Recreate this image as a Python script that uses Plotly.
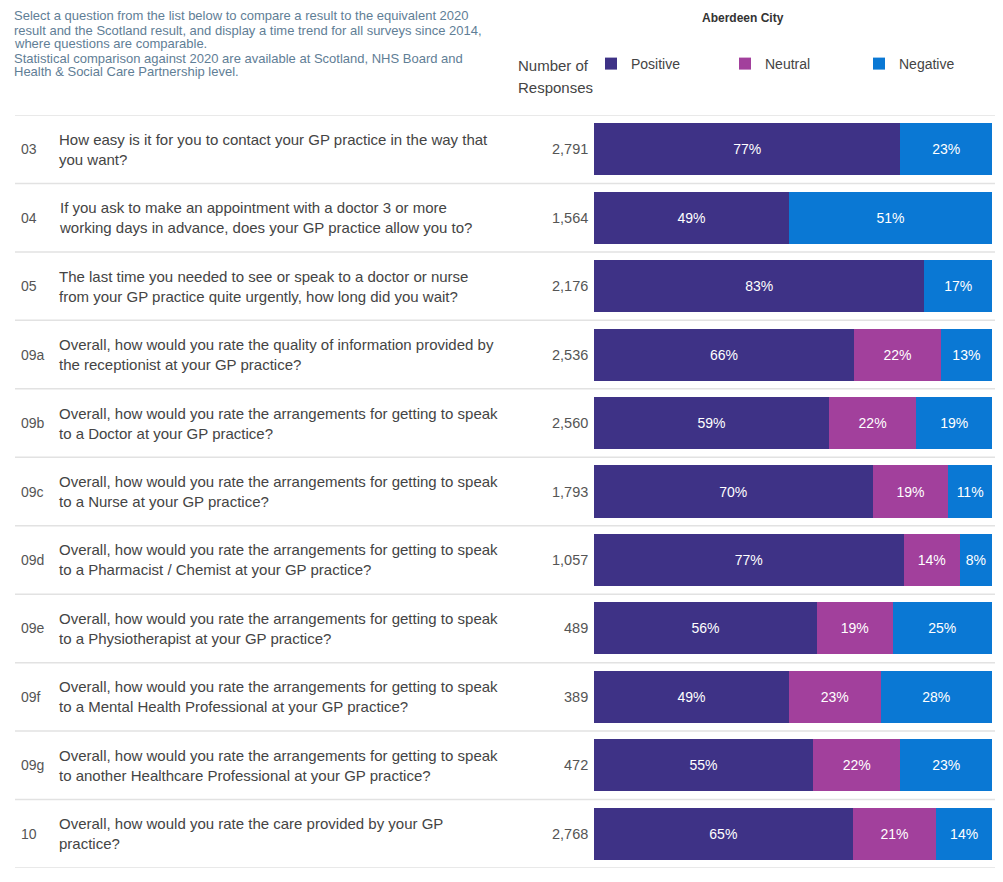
import plotly.graph_objects as go

W, H = 1003, 882

qids = ["03", "04", "05", "09a", "09b", "09c", "09d", "09e", "09f", "09g", "10"]
questions = [
    "How easy is it for you to contact your GP practice in the way that<br>you want?",
    "If you ask to make an appointment with a doctor 3 or more<br>working days in advance, does your GP practice allow you to?",
    "The last time you needed to see or speak to a doctor or nurse<br>from your GP practice quite urgently, how long did you wait?",
    "Overall, how would you rate the quality of information provided by<br>the receptionist at your GP practice?",
    "Overall, how would you rate the arrangements for getting to speak<br>to a Doctor at your GP practice?",
    "Overall, how would you rate the arrangements for getting to speak<br>to a Nurse at your GP practice?",
    "Overall, how would you rate the arrangements for getting to speak<br>to a Pharmacist / Chemist at your GP practice?",
    "Overall, how would you rate the arrangements for getting to speak<br>to a Physiotherapist at your GP practice?",
    "Overall, how would you rate the arrangements for getting to speak<br>to a Mental Health Professional at your GP practice?",
    "Overall, how would you rate the arrangements for getting to speak<br>to another Healthcare Professional at your GP practice?",
    "Overall, how would you rate the care provided by your GP<br>practice?",
]
responses = ["2,791", "1,564", "2,176", "2,536", "2,560", "1,793", "1,057", "489", "389", "472", "2,768"]
positive = [77, 49, 83, 66, 59, 70, 77, 56, 49, 55, 65]
neutral = [0, 0, 0, 22, 22, 19, 14, 19, 23, 22, 21]
negative = [23, 51, 17, 13, 19, 11, 8, 25, 28, 23, 14]

header_lines = [
    "Select a question from the list below to compare a result to the equivalent 2020",
    "result and the Scotland result, and display a time trend for all surveys since 2014,",
    "where questions are comparable.",
    "Statistical comparison against 2020 are available at Scotland, NHS Board and",
    "Health & Social Care Partnership level.",
]
area_title = "Aberdeen City"
count_title = ["Number of", "Responses"]

series = [("Positive", positive, "#3e3286"), ("Neutral", neutral, "#a2409c"), ("Negative", negative, "#0a78d4")]

totals = [p + n + g for p, n, g in zip(positive, neutral, negative)]

FONT = "Liberation Sans, Arial, sans-serif"

fig = go.Figure()
for name, vals, col in series:
    widths = [v / t * 100 for v, t in zip(vals, totals)]
    labels = [f"{v}%" if v > 0 else "" for v in vals]
    fig.add_trace(go.Bar(
        name=name, y=qids, x=widths, orientation="h", marker=dict(color=col, line=dict(width=0)),
        text=labels, textposition="inside", insidetextanchor="middle", textangle=0,
        textfont=dict(color="white", size=14, family=FONT),
        width=0.76, hoverinfo="skip",
    ))

ann = []
for i, (q, txt, r) in enumerate(zip(qids, questions, responses)):
    ann.append(dict(x=19 / W, y=i, xref="paper", yref="y", text=q, showarrow=False, xanchor="left",
                    yanchor="middle", font=dict(size=14, color="#555555")))
    ann.append(dict(x=57 / W, y=i, xref="paper", yref="y", text=txt, showarrow=False, xanchor="left",
                    yanchor="middle", align="left", font=dict(size=15, color="#444444")))
    ann.append(dict(x=590 / W, y=i, xref="paper", yref="y", text=r, showarrow=False, xanchor="right",
                    yanchor="middle", font=dict(size=14.5, color="#555555")))

for k, line in enumerate(header_lines):
    ann.append(dict(x=12 / W, y=1 - (16 + 14 * k) / H, xref="paper", yref="paper", showarrow=False,
                    xanchor="left", yanchor="middle", text=line, font=dict(size=13, color="#5f7e96")))
ann.append(dict(x=743 / W, y=1 - 18 / H, xref="paper", yref="paper", showarrow=False, xanchor="center",
                yanchor="middle", text=f"<b>{area_title}</b>", font=dict(size=12, color="#333333")))
for k, line in enumerate(count_title):
    ann.append(dict(x=516 / W, y=1 - (66 + 22 * k) / H, xref="paper", yref="paper", showarrow=False,
                    xanchor="left", yanchor="middle", text=line, font=dict(size=15, color="#444444")))

shapes = []
for i in range(len(qids) + 1):
    shapes.append(dict(type="line", xref="paper", yref="y", x0=15 / W, x1=995 / W, y0=i - 0.5, y1=i - 0.5,
                       line=dict(color="#e2e2e2", width=1.5)))

fig.update_layout(
    width=W, height=H, barmode="stack",
    margin=dict(l=0, r=0, t=0, b=0),
    paper_bgcolor="white", plot_bgcolor="white",
    font=dict(family=FONT),
    xaxis=dict(domain=[594 / W, 992 / W], range=[0, 100], visible=False, fixedrange=True),
    yaxis=dict(type="category", domain=[1 - 868 / H, 1 - 115 / H], range=[len(qids) - 0.5, -0.5],
               visible=False, categoryorder="array", categoryarray=qids, fixedrange=True),
    legend=dict(orientation="h", x=591 / W, y=1 - 64 / H, xanchor="left", yanchor="middle",
                entrywidth=89, entrywidthmode="pixels", traceorder="normal",
                font=dict(size=14, color="#444444"), itemclick=False, itemdoubleclick=False,
                bgcolor="rgba(0,0,0,0)"),
    annotations=ann, shapes=shapes,
)

fig.write_html("out.html")
